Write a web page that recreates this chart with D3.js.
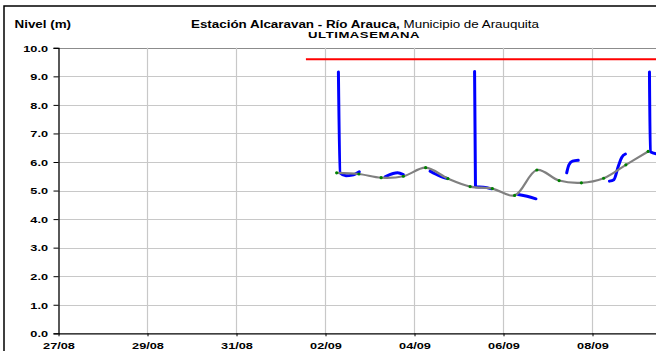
<!DOCTYPE html>
<html><head><meta charset="utf-8">
<script src="https://cdn.jsdelivr.net/npm/d3@7"></script>
<style>body{margin:0;background:#fff}svg{display:block}</style>
</head><body><svg id="c" width="656" height="351"></svg>
<script>
// ---- data ----
const startDate = "2014-08-27T00:00:00Z";
const tickDates = ["2014-08-27","2014-08-29","2014-08-31","2014-09-02","2014-09-04","2014-09-06","2014-09-08"];
const tickLabels = ["27/08","29/08","31/08","02/09","04/09","06/09","08/09"];
const gridDates = ["2014-08-29","2014-08-31","2014-09-02","2014-09-04","2014-09-06","2014-09-08","2014-09-10"];
const yTicks = [0,1,2,3,4,5,6,7,8,9,10];
// grey observations (06:00 & 18:00)
const obsTimes = ["2014-09-02T06:00","2014-09-02T18:00","2014-09-03T06:00","2014-09-03T18:00","2014-09-04T06:00","2014-09-04T18:00","2014-09-05T06:00","2014-09-05T18:00","2014-09-06T06:00","2014-09-06T18:00","2014-09-07T06:00","2014-09-07T18:00","2014-09-08T06:00","2014-09-08T18:00","2014-09-09T06:00"];
const obsValues = [5.62,5.58,5.45,5.50,5.80,5.42,5.14,5.07,4.83,5.72,5.35,5.27,5.43,5.90,6.37];
// blue sensor fragments: [days since start, level]
const sensorSegments = [
  [[6.29,9.15],[6.33,5.62],[6.46,5.52],[6.60,5.54],[6.76,5.66]],
  [[7.34,5.48],[7.52,5.60],[7.62,5.62],[7.75,5.56]],
  [[8.35,5.68],[8.47,5.58],[8.60,5.49],[8.74,5.42]],
  [[9.35,9.17],[9.37,5.13],[9.55,5.12],[9.73,5.06]],
  [[10.33,4.86],[10.53,4.80],[10.73,4.71]],
  [[11.42,5.62],[11.47,5.90],[11.55,6.03],[11.68,6.06]],
  [[12.38,5.33],[12.48,5.38],[12.58,5.85],[12.66,6.17],[12.74,6.28]],
  [[13.28,9.15],[13.30,6.36],[13.43,6.29]]
];
const alertLevel = 9.6;
const alertRange = [5.56, 14];

// ---- layout ----
const svg = d3.select("#c");
const X0 = 58.5, DAY = 44.5, Y0 = 333.3, Y10 = 47.8;
const SX = 1.34;
const FONT = "Liberation Sans, Arial, sans-serif";
const t0 = new Date(startDate);
const dayToDate = d => new Date(t0.getTime() + d*86400000);
const x = d3.scaleUtc().domain([t0, dayToDate(16)]).range([X0, X0 + 16*DAY]);
const y = d3.scaleLinear().domain([0,10]).range([Y0, Y10]);
const parse = s => new Date(s + (s.length>10 ? ":00Z" : "T00:00:00Z"));

// frame
svg.append("path").attr("d","M4,351V6H656").attr("fill","none").attr("stroke","#000").attr("stroke-width",1.5);

// gridlines
const grid = svg.append("g");
grid.selectAll("line.h").data(yTicks.filter(v=>v>0)).join("line")
  .attr("x1",X0).attr("x2",656).attr("y1",d=>Math.round(y(d))+0.5).attr("y2",d=>Math.round(y(d))+0.5)
  .attr("stroke",d=>d===10?"#8c8c8c":"#c8c8c8").attr("stroke-width",1);
grid.selectAll("line.v").data(gridDates).join("line")
  .attr("x1",d=>x(parse(d))).attr("x2",d=>x(parse(d))).attr("y1",Y10).attr("y2",Y0)
  .attr("stroke","#c8c8c8").attr("stroke-width",1.2);

// axes
const yAxis = svg.append("g").attr("transform",`translate(${X0},0)`)
  .call(d3.axisLeft(y).tickValues(yTicks).tickFormat(d3.format(".1f")).tickSize(5).tickPadding(0));
yAxis.select(".domain").attr("stroke","#000").attr("stroke-width",1.3);
yAxis.selectAll(".tick line").attr("stroke","#000");
yAxis.selectAll(".tick text").attr("x",-10.5/SX).attr("dy","0.35em").attr("transform",`scale(${SX},1)`)
  .attr("font-family",FONT).attr("font-size",9.5).attr("font-weight","bold").attr("fill","#000");

const xAxis = svg.append("g").attr("transform",`translate(0,${Y0})`)
  .call(d3.axisBottom(x).tickValues(tickDates.map(parse)).tickFormat((d,i)=>tickLabels[i]).tickSize(3).tickSizeOuter(0));
xAxis.select(".domain").attr("stroke","#000").attr("stroke-width",1.3);
xAxis.selectAll(".tick line").attr("stroke","#000");
xAxis.selectAll(".tick text").attr("y",16).attr("dy",0).attr("transform",`scale(${SX},1)`)
  .attr("font-family",FONT).attr("font-size",9.5).attr("font-weight","bold").attr("fill","#000");

// clip
svg.append("clipPath").attr("id","pc").append("rect").attr("x",X0).attr("y",0).attr("width",656-X0).attr("height",Y0);
const plot = svg.append("g").attr("clip-path","url(#pc)");

// red alert line
plot.append("line").attr("x1",x(dayToDate(alertRange[0]))).attr("x2",x(dayToDate(alertRange[1])))
  .attr("y1",y(alertLevel)).attr("y2",y(alertLevel)).attr("stroke","#ff0000").attr("stroke-width",2);

// blue sensor
const blueLine = d3.line().x(p=>x(dayToDate(p[0]))).y(p=>y(p[1])).curve(d3.curveMonotoneX);
plot.selectAll("path.s").data(sensorSegments).join("path").attr("d",blueLine)
  .attr("fill","none").attr("stroke","#0000ff").attr("stroke-width",3).attr("stroke-linecap","round").attr("stroke-linejoin","round");

// grey observations
const obs = obsTimes.map((t,i)=>({t:parse(t), v:obsValues[i]}));
plot.append("path").datum(obs).attr("d",d3.line().x(d=>x(d.t)).y(d=>y(d.v)).curve(d3.curveCatmullRom.alpha(0.5)))
  .attr("fill","none").attr("stroke","#808080").attr("stroke-width",2.2);
plot.selectAll("circle").data(obs).join("circle").attr("cx",d=>x(d.t)).attr("cy",d=>y(d.v)).attr("r",1.6).attr("fill","#008000");

// texts
function txt(xp, yp, parts, size, anchor){
  const t = svg.append("text").attr("transform",`translate(${xp},${yp}) scale(${SX},1)`)
    .attr("font-family",FONT).attr("font-size",size).attr("text-anchor",anchor).attr("fill","#000");
  parts.forEach(p=>t.append("tspan").attr("font-weight",p[1]).text(p[0]));
  return t;
}
txt(14.5, 27.5, [["Nivel (m)","bold"]], 10, "start");
txt(365, 27.5, [["Estación Alcaravan - Río Arauca,","bold"],[" Municipio de Arauquita","normal"]], 10, "middle");
txt(364, 37.5, [["ULTIMASEMANA","bold"]], 9.8, "middle").attr("letter-spacing",0.4);
</script></body></html>
